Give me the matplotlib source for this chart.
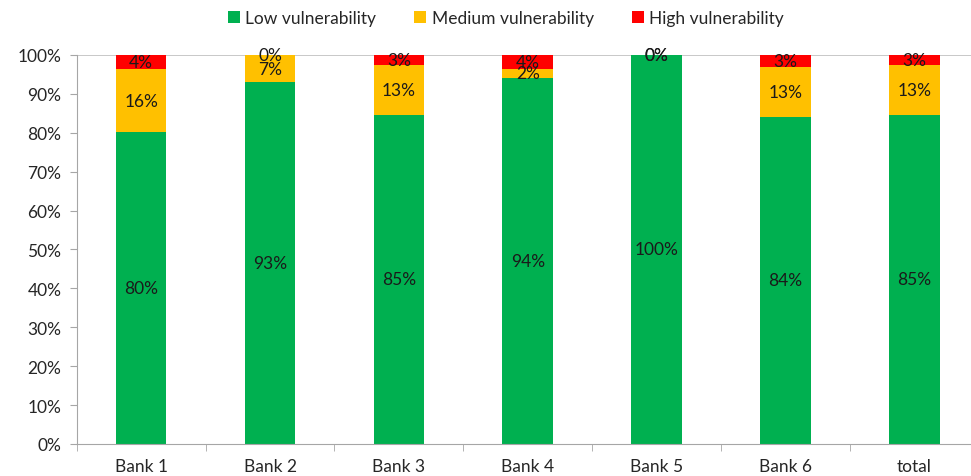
import matplotlib
matplotlib.use("Agg")
import matplotlib.pyplot as plt
import numpy as np

categories = ["Bank 1", "Bank 2", "Bank 3", "Bank 4", "Bank 5", "Bank 6", "total"]
low = [80.1, 93.0, 84.7, 94.1, 100.0, 84.1, 84.7]
medium = [16.3, 7.0, 12.7, 2.3, 0.0, 12.8, 12.7]
high = [3.6, 0.0, 2.6, 3.6, 0.0, 3.1, 2.6]

series_names = ["Low vulnerability", "Medium vulnerability", "High vulnerability"]
colors = ["#00B050", "#FFC000", "#FF0000"]

plt.rcParams['font.family'] = ['Lato', 'DejaVu Sans']

fig = plt.figure(figsize=(9.71, 4.77), dpi=100)
ax = fig.add_axes([0.079, 0.0671, 0.929, 0.8155])

x = np.arange(len(categories))
width = 0.392
bottom = np.zeros(len(categories))
handles = []
for vals, name, col in zip([low, medium, high], series_names, colors):
    vals = np.array(vals)
    b = ax.bar(x, vals, width, bottom=bottom, color=col, label=name, zorder=2)
    handles.append(b)
    for xi, v, b0 in zip(x, vals, bottom):
        ax.text(xi, b0 + v / 2, "%d%%" % round(v), ha="center", va="center",
                fontsize=12.5, color="#1a1a1a", zorder=3)
    bottom = bottom + vals

ax.set_xlim(-0.5, len(categories) - 0.5)
ax.set_ylim(0, 100)
ax.set_yticks(np.arange(0, 101, 10))
ax.set_yticklabels(["%d%%" % v for v in range(0, 101, 10)])
ax.set_xticks(x)
ax.set_xticklabels(categories)
ax.set_xticks(np.arange(-0.5, len(categories), 1), minor=True)
ax.tick_params(axis="x", which="major", length=0, pad=10, labelsize=12.5, labelcolor="#262626")
ax.tick_params(axis="x", which="minor", length=5, color="#A6A6A6")
ax.tick_params(axis="y", length=5, color="#A6A6A6", labelsize=12.5, labelcolor="#262626", pad=6)

ax.axhline(100, color="#BFBFBF", lw=1.2, zorder=1)
for s in ["top", "right"]:
    ax.spines[s].set_visible(False)
for s in ["left", "bottom"]:
    ax.spines[s].set_color("#A6A6A6")

fig.legend(handles=handles, labels=series_names, loc="center", bbox_to_anchor=(0.521, 0.960),
           ncol=3, frameon=False, fontsize=12.5, handlelength=0.7, handleheight=0.7,
           handletextpad=0.3, columnspacing=2.2, labelcolor="#262626")

fig.savefig("out.png", dpi=100)
